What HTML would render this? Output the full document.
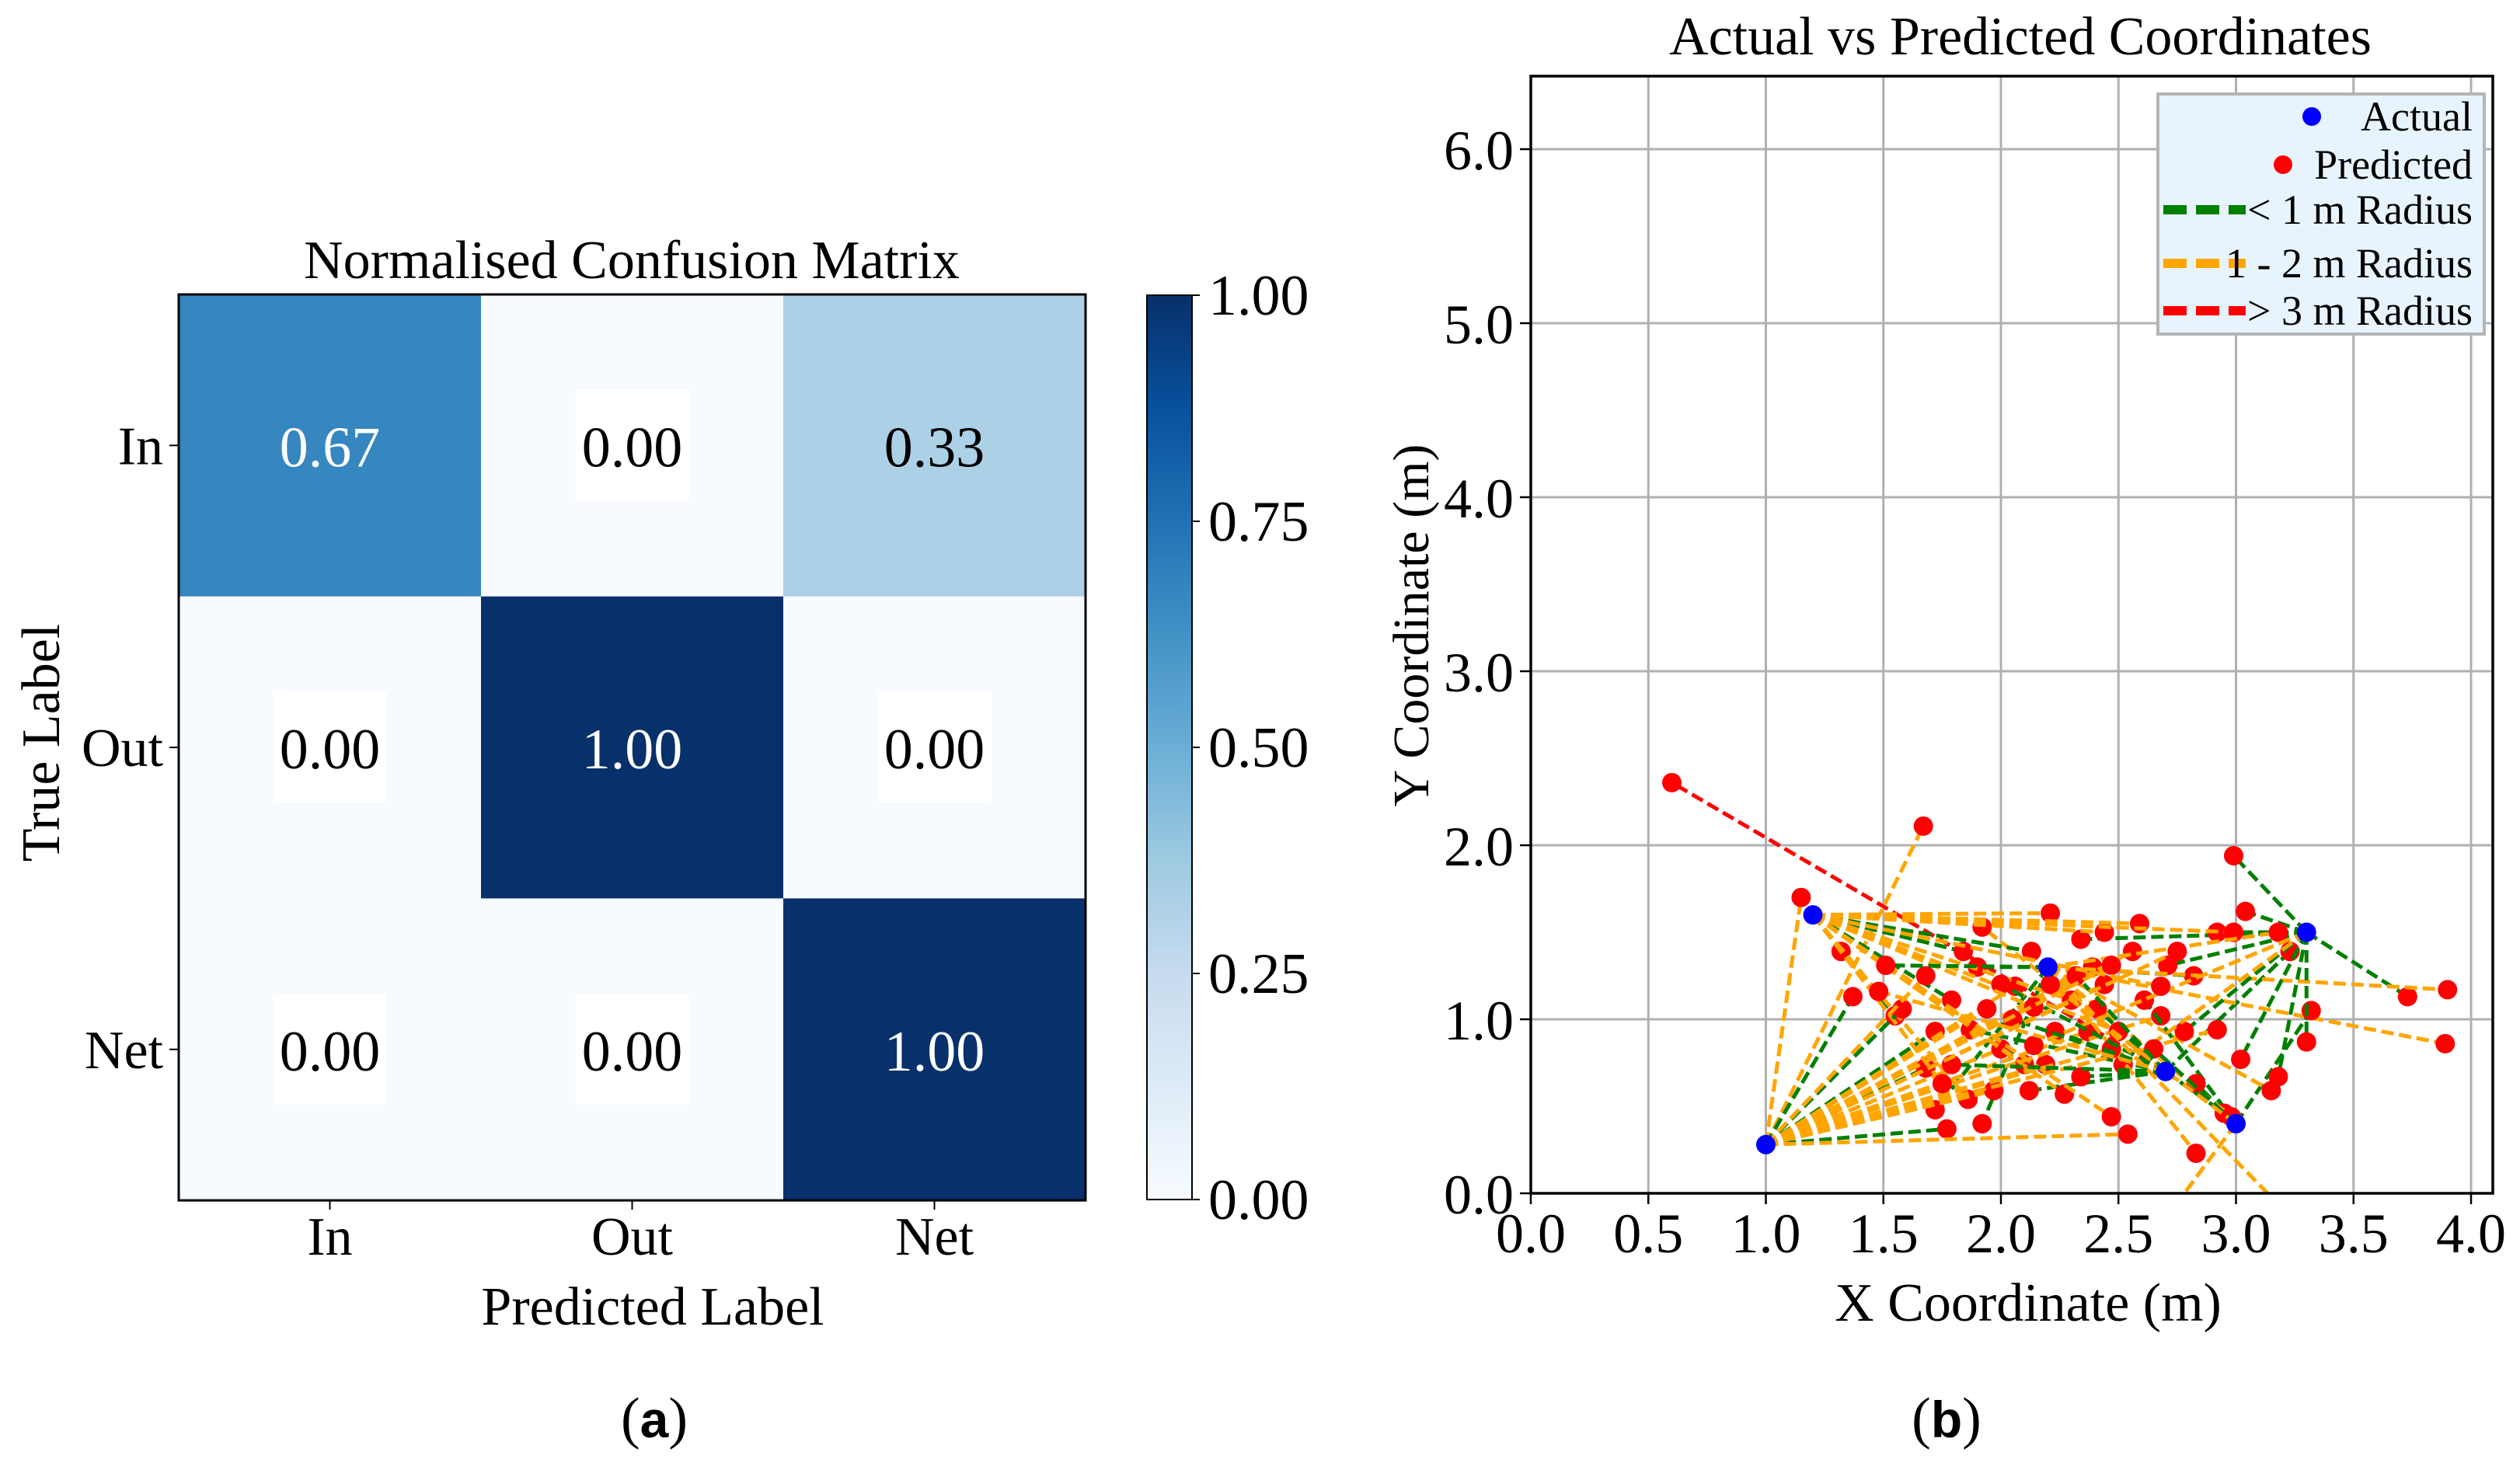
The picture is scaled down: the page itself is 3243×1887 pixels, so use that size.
<!DOCTYPE html>
<html><head><meta charset="utf-8"><style>
html,body{margin:0;padding:0;background:#fff}
svg{display:block}
text{font-family:"Liberation Serif",serif;fill:#000}
</style></head><body>
<svg id="fig" width="3243" height="1887" viewBox="0 0 3243 1887" xmlns="http://www.w3.org/2000/svg">
<g id="left"></g>
<g id="right"></g>
<text x="842" y="1850" font-size="74" text-anchor="middle">(<tspan font-weight="bold" font-family="Liberation Sans, sans-serif" font-size="66">a</tspan>)</text>
<text x="2505" y="1850" font-size="74" text-anchor="middle">(<tspan font-weight="bold" font-family="Liberation Sans, sans-serif" font-size="66">b</tspan>)</text>
</svg>
<script>
const cmLabels = ["In","Out","Net"];
const cmRow0 = [0.67,0.00,0.33];
const cmRow1 = [0.00,1.00,0.00];
const cmRow2 = [0.00,0.00,1.00];
const cbTicks = [0,0.25,0.5,0.75,1.0];
const cbTickLabels = ["0.00","0.25","0.50","0.75","1.00"];

const actualX = [1.0,1.2,2.2,2.7,3.0,3.3];
const actualY = [0.28,1.6,1.3,0.7,0.4,1.5];
const predX = [0.60,1.67,1.15,1.32,1.37,1.55,1.72,1.72,1.77,1.86,1.92,1.97,1.84,1.92,2.13,2.21,2.06,1.90,1.79,1.87,2.00,2.10,2.19,2.12,2.27,2.37,2.30,2.39,2.34,2.44,2.56,2.59,2.71,2.82,2.92,2.99,3.04,2.99,3.18,3.23,3.73,3.90,3.89,3.32,3.30,3.18,3.15,3.02,2.92,2.78,2.68,2.61,2.52,2.83,2.54,2.47,2.83,2.95,2.98,2.65,2.34,2.47,2.41,2.50,2.23,2.14,2.05,1.94,2.00,2.21,2.32,2.44,2.14,1.68,1.79,1.75,1.58,1.48,1.68,1.51,2.47,2.68,2.75,2.45,3.35];
const predY = [2.36,2.11,1.70,1.39,1.13,1.02,0.93,0.48,0.37,0.54,0.40,0.59,1.39,1.53,1.39,1.61,1.19,1.30,1.11,0.94,0.83,0.74,0.74,0.59,0.57,0.93,1.11,1.30,1.46,1.50,1.39,1.55,1.31,1.25,1.50,1.50,1.62,1.94,1.50,1.39,1.13,1.17,0.86,1.05,0.87,0.67,0.59,0.77,0.94,0.93,1.02,1.11,0.74,0.23,0.34,0.44,0.63,0.46,0.44,0.83,0.67,0.83,1.06,0.93,0.93,0.85,1.00,1.06,1.20,1.20,1.25,1.20,1.07,0.72,0.74,0.63,1.06,1.16,1.25,1.31,1.31,1.19,1.39,-0.6,-0.3];
const predActual = [3,0,0,1,0,1,0,2,0,1,2,0,1,3,1,1,0,2,1,3,0,1,0,3,1,0,1,0,5,1,0,1,5,2,5,1,5,5,2,3,5,2,2,4,5,5,2,5,0,5,0,4,5,2,0,1,4,3,2,4,3,0,3,1,3,5,3,0,3,4,3,0,1,0,3,1,0,3,0,2,0,1,0,4,2];
const xTicks = [0,0.5,1,1.5,2,2.5,3,3.5,4];
const yTicks = [0,1,2,3,4,5,6];

const NS="http://www.w3.org/2000/svg";
function mk(parent, tag, attrs, txt){const e=document.createElementNS(NS,tag);for(const k in attrs)e.setAttribute(k,attrs[k]);if(txt!==undefined)e.textContent=txt;parent.appendChild(e);return e;}

const bluesStops=[[247,251,255],[222,235,247],[198,219,239],[158,202,225],[107,174,214],[66,146,198],[33,113,181],[8,81,156],[8,48,107]];
function blues(v){v=Math.max(0,Math.min(1,v));const p=v*8,i=Math.min(7,Math.floor(p)),f=p-i;const a=bluesStops[i],b=bluesStops[i+1];return `rgb(${Math.round(a[0]+(b[0]-a[0])*f)},${Math.round(a[1]+(b[1]-a[1])*f)},${Math.round(a[2]+(b[2]-a[2])*f)})`;}

// ---------- Left: confusion matrix ----------
const L=document.getElementById('left');
const hx0=230,hy0=379,cw=389,ch=388.7;
const rows=[cmRow0,cmRow1,cmRow2];
const cx=i=>hx0+cw*(i+0.5), cy=j=>hy0+ch*(j+0.5);
rows.forEach((row,j)=>row.forEach((v,i)=>{
  const r=mk(L,'rect',{x:hx0+cw*i,y:hy0+ch*j,width:cw+0.5,height:ch+0.5,fill:blues(v)});
  
  
  const light=v<0.5;
  if(v<0.1){const b=mk(L,'rect',{x:cx(i)-73,y:cy(j)-72,width:146,height:143,fill:'#fff'});
    }
  const t=mk(L,'text',{x:cx(i),y:cy(j)+27,'font-size':74,'text-anchor':'middle',style:'fill:'+(light?'#000':'#fff')},v.toFixed(2));
  
}));
const hb=mk(L,'rect',{x:hx0,y:hy0,width:cw*3,height:ch*3,fill:'none',stroke:'#000','stroke-width':3});

cmLabels.forEach((lab,i)=>{
  mk(L,'line',{x1:cx(i),y1:hy0+ch*3,x2:cx(i),y2:hy0+ch*3+12,stroke:'#000','stroke-width':2});
  const t=mk(L,'text',{x:cx(i),y:1615,'font-size':70,'text-anchor':'middle'},lab);
  
  mk(L,'line',{x1:hx0-12,y1:cy(i),x2:hx0,y2:cy(i),stroke:'#000','stroke-width':2});
  const u=mk(L,'text',{x:hx0-20,y:cy(i)+24,'font-size':70,'text-anchor':'end'},lab);
  
});
let t=mk(L,'text',{x:813,y:358,'font-size':70,'text-anchor':'middle'},'Normalised Confusion Matrix');

t=mk(L,'text',{x:840,y:1705,'font-size':70,'text-anchor':'middle'},'Predicted Label');

t=mk(L,'text',{x:0,y:0,'font-size':70,'text-anchor':'middle',transform:'translate(76,956) rotate(-90)'},'True Label');

const cbx=1476,cbw=58,cbt=380,cbb=1544;
const defs=mk(L,'defs',{});const g=mk(defs,'linearGradient',{id:'cbg',x1:0,y1:1,x2:0,y2:0});
for(let k=0;k<=8;k++)mk(g,'stop',{offset:k/8,'stop-color':blues(k/8)});
const cb=mk(L,'rect',{x:cbx,y:cbt,width:cbw,height:cbb-cbt,fill:'url(#cbg)',stroke:'#000','stroke-width':2});

const cbY=v=>cbb-(cbb-cbt)*v;
cbTicks.forEach((v,k)=>{
  mk(L,'line',{x1:cbx+cbw,y1:cbY(v),x2:cbx+cbw+10,y2:cbY(v),stroke:'#000','stroke-width':2});
  const tt=mk(L,'text',{x:1555,y:cbY(v)+25,'font-size':74},cbTickLabels[k]);
  
});

// ---------- Right: scatter ----------
const R=document.getElementById('right');
const ax0=1970,ax1=3208,ay0=1536,ay1=98;
const sx=x=>ax0+302.5*x, sy=y=>ay0-224*y;
const cp=mk(R,'clipPath',{id:'clipR'});
mk(cp,'rect',{x:ax0,y:ay1,width:ax1-ax0,height:ay0-ay1});
xTicks.forEach(v=>{
  const l=mk(R,'line',{x1:sx(v),y1:ay1,x2:sx(v),y2:ay0,stroke:'#b0b0b0','stroke-width':3});
  
  mk(R,'line',{x1:sx(v),y1:ay0,x2:sx(v),y2:ay0+14,stroke:'#000','stroke-width':2.5});
  const tt=mk(R,'text',{x:sx(v),y:1612,'font-size':72,'text-anchor':'middle'},v.toFixed(1));
  
});
yTicks.forEach(v=>{
  const l=mk(R,'line',{x1:ax0,y1:sy(v),x2:ax1,y2:sy(v),stroke:'#b0b0b0','stroke-width':3});
  
  mk(R,'line',{x1:ax0-14,y1:sy(v),x2:ax0,y2:sy(v),stroke:'#000','stroke-width':2.5});
  const tt=mk(R,'text',{x:1948,y:sy(v)+26,'font-size':72,'text-anchor':'end'},v.toFixed(1));
  
});
const plot=mk(R,'g',{'clip-path':'url(#clipR)'});

predX.forEach((px,i)=>{
  const a=predActual[i];
  const d=Math.hypot(px-actualX[a],predY[i]-actualY[a]);
  const col=d<1?'#008000':(d<=2.5?'#ffa500':'#ff0000');
  const l=mk(plot,'line',{x1:sx(actualX[a]),y1:sy(actualY[a]),x2:sx(px),y2:sy(predY[i]),stroke:col,'stroke-width':5,'stroke-dasharray':'16,7'});
  
  const c=mk(plot,'circle',{cx:sx(px),cy:sy(predY[i]),r:12.5,fill:'#ff0000'});
  
});
actualX.forEach((x,i)=>{
  const c=mk(plot,'circle',{cx:sx(x),cy:sy(actualY[i]),r:12.5,fill:'#0000ff'});
  
});
const fr=mk(R,'rect',{x:ax0,y:ay1,width:ax1-ax0,height:ay0-ay1,fill:'none',stroke:'#000','stroke-width':3.5});

t=mk(R,'text',{x:2600,y:70,'font-size':70,'text-anchor':'middle'},'Actual vs Predicted Coordinates');

t=mk(R,'text',{x:2610,y:1700,'font-size':70,'text-anchor':'middle'},'X Coordinate (m)');

t=mk(R,'text',{x:0,y:0,'font-size':66,'text-anchor':'middle',transform:'translate(1838,805) rotate(-90)'},'Y Coordinate (m)');

const lg=mk(R,'g',{});

mk(lg,'rect',{x:2777,y:121,width:420,height:309,fill:'#e8f4fd',stroke:'#b5b5b5','stroke-width':4});
const le=[['dot','#0000ff','Actual',2975,150],['dot','#ff0000','Predicted',2938,212],['line','#008000','< 1 m Radius',0,270],['line','#ffa500','1 - 2 m Radius',0,339],['line','#ff0000','> 3 m Radius',0,400]];
le.forEach(e=>{
  if(e[0]==='dot')mk(lg,'circle',{cx:e[3],cy:e[4],r:12,fill:e[1]});
  else mk(lg,'line',{x1:2784,y1:e[4],x2:2890,y2:e[4],stroke:e[1],'stroke-width':12,'stroke-dasharray':'30,12'});
  const tt=mk(lg,'text',{x:3182,y:e[4]+18,'font-size':54,'text-anchor':'end'},e[2]);
  
});
</script>
</body></html>
